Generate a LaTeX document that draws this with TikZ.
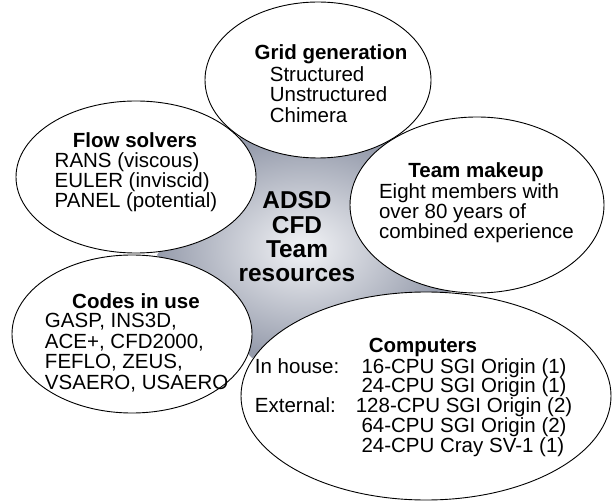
\documentclass[tikz,border=0pt]{standalone}
\usepackage{fontspec}
\setmainfont{Liberation Sans}
\usetikzlibrary{shapes.geometric,backgrounds}
\definecolor{HubEdge}{RGB}{150,156,172}
\definecolor{HubCore}{RGB}{242,243,246}
\newcommand\tightlines{\lineskiplimit=-\maxdimen}
% label, then the CPU count centred on one column, then the machine
\newsavebox\cpubox
\newcommand\cpuline[3]{\makebox[118pt][l]{#1}\sbox\cpubox{#2}\hspace{-.5\wd\cpubox}#2#3}
\tikzset{
  bubble/.style={ellipse,draw=black,line width=0.9pt,fill=white,inner sep=0pt},
  bhead/.style={font=\fontsize{20.5pt}{20.5pt}\selectfont\bfseries,inner sep=0pt,anchor=base},
  bbody/.style={font=\fontsize{20.5pt}{20.5pt}\selectfont\tightlines,align=left,inner sep=0pt},
  hubtext/.style={font=\fontsize{24.4pt}{24.3pt}\selectfont\bfseries\tightlines,align=center,inner sep=0pt},
}

\begin{document}
\begin{tikzpicture}[x=1pt,y=-1pt]
  \useasboundingbox (0,0) rectangle (612,502);

  \node[bubble, minimum width=226pt, minimum height=156pt] (grid) at (318,80) {};
  \node[bubble, minimum width=240pt, minimum height=152pt] (flow) at (136,177) {};
  \node[bubble, minimum width=254pt, minimum height=176pt] (team) at (477,205) {};
  \node[bubble, minimum width=240pt, minimum height=158pt] (codes) at (132,334) {};
  \node[bubble, minimum width=370pt, minimum height=208pt] (comp) at (426,396) {};

  \node[bhead] (gridhead) at (331,60) {Grid generation};
  \node[bbody] (gridbody) at (328.5,94.3) {Structured\\Unstructured\\Chimera};

  \node[bhead] (flowhead) at (135,148) {Flow solvers};
  \node[bbody, font=\fontsize{20.5pt}{19.7pt}\selectfont\tightlines] (flowbody) at (136,182.4)
    {RANS (viscous)\\EULER (inviscid)\\PANEL (potential)};

  \node[bhead] (teamhead) at (476,178) {Team makeup};
  \node[bbody, font=\fontsize{20.5pt}{20pt}\selectfont\tightlines] (teambody) at (476.5,212.8)
    {Eight members with\\over 80 years of\\combined experience};

  \node[bhead] (codeshead) at (136,308) {Codes in use};
  \node[bbody] (codesbody) at (136.7,352.9) {GASP, INS3D,\\ACE+, CFD2000,\\FEFLO, ZEUS,\\VSAERO, USAERO};

  \node[bhead] (comphead) at (423,352) {Computers};
  \node[bbody, font=\fontsize{20.5pt}{19.8pt}\selectfont\tightlines] (compbody) at (413.6,407.3) {%
    \cpuline{In house:}{16}{-CPU SGI Origin (1)}\\
    \cpuline{}{24}{-CPU SGI Origin (1)}\\
    \cpuline{External:}{128}{-CPU SGI Origin (2)}\\
    \cpuline{}{64}{-CPU SGI Origin (2)}\\
    \cpuline{}{24}{-CPU Cray SV-1 (1)}};

  \node[hubtext] (hub) at (297,237) {ADSD\\CFD\\Team\\resources};

  % shaded hub behind the bubbles, its tips sit in the gaps
  \coordinate (gapA) at (240,137);
  \coordinate (gapB) at (395,137);
  \coordinate (gapC) at (450,292);
  \coordinate (gapD) at (252,358);
  \coordinate (gapE) at (157,255);
  \begin{scope}[on background layer]
    \shade[inner color=HubCore, outer color=HubEdge]
      (gapA) -- (gapB) -- (gapC) -- (gapD) -- (gapE) -- cycle;
  \end{scope}
\end{tikzpicture}
\end{document}
